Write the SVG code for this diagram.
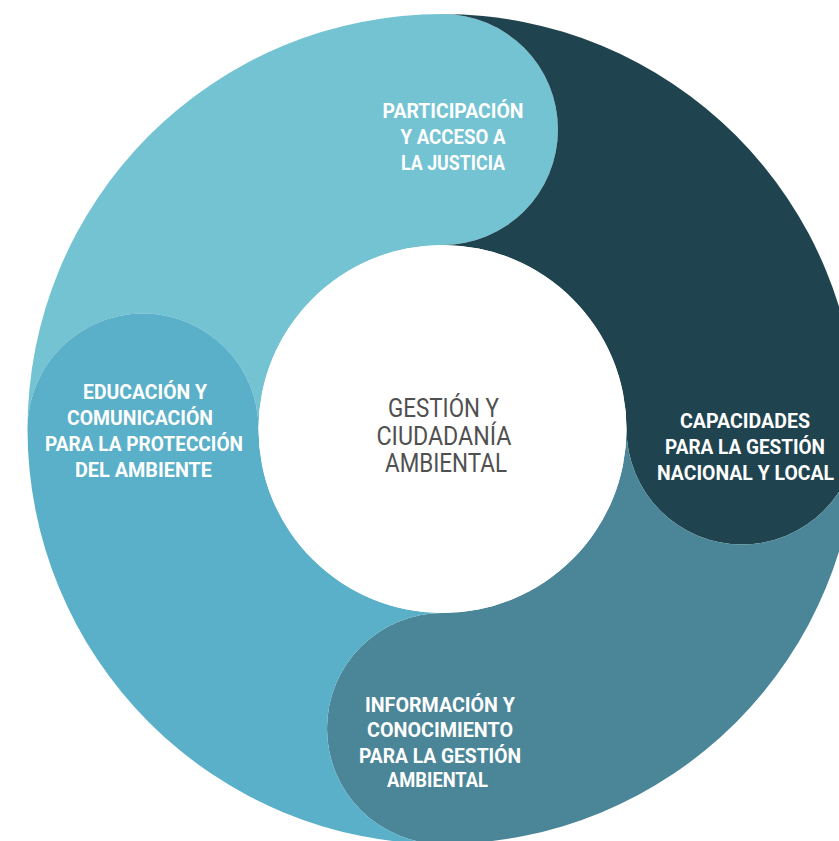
<svg xmlns="http://www.w3.org/2000/svg" width="839" height="841" viewBox="0 0 839 841">
<style>
.lbl{font-family:Roboto,"Liberation Sans",sans-serif;font-weight:700;font-size:21px;fill:#ffffff;text-anchor:middle}
.ctr{font-family:Roboto,"Liberation Sans",sans-serif;font-weight:400;font-size:26px;fill:#505050;text-anchor:middle}
</style>
<rect width="839" height="841" fill="#ffffff"/>
<g id="participacion">
<path fill="#73C3D3" d="M27.5 429 A415 415 0 0 1 442.5 14 A115.5 115.5 0 0 1 442.5 245 A184 184 0 0 0 258.5 429 A115.5 115.5 0 0 0 27.5 429 Z"/>
<text class="lbl" x="453" y="118" textLength="141" lengthAdjust="spacingAndGlyphs">PARTICIPACIÓN</text>
<text class="lbl" x="453" y="144" textLength="105" lengthAdjust="spacingAndGlyphs">Y ACCESO A</text>
<text class="lbl" x="453" y="170" textLength="104" lengthAdjust="spacingAndGlyphs">LA JUSTICIA</text>
</g>
<g id="capacidades">
<path fill="#20444F" d="M442.5 14 A415 415 0 0 1 857.5 429 A115.5 115.5 0 0 1 626.5 429 A184 184 0 0 0 442.5 245 A115.5 115.5 0 0 0 442.5 14 Z"/>
<text class="lbl" x="745" y="428" textLength="130" lengthAdjust="spacingAndGlyphs">CAPACIDADES</text>
<text class="lbl" x="745" y="454" textLength="160" lengthAdjust="spacingAndGlyphs">PARA LA GESTIÓN</text>
<text class="lbl" x="745.5" y="480" textLength="177" lengthAdjust="spacingAndGlyphs">NACIONAL Y LOCAL</text>
</g>
<g id="informacion">
<path fill="#4B8698" d="M857.5 429 A415 415 0 0 1 442.5 844 A115.5 115.5 0 0 1 442.5 613 A184 184 0 0 0 626.5 429 A115.5 115.5 0 0 0 857.5 429 Z"/>
<text class="lbl" x="440" y="712" textLength="150" lengthAdjust="spacingAndGlyphs">INFORMACIÓN Y</text>
<text class="lbl" x="440" y="737" textLength="146" lengthAdjust="spacingAndGlyphs">CONOCIMIENTO</text>
<text class="lbl" x="440" y="763" textLength="162" lengthAdjust="spacingAndGlyphs">PARA LA GESTIÓN</text>
<text class="lbl" x="437.5" y="787" textLength="101" lengthAdjust="spacingAndGlyphs">AMBIENTAL</text>
</g>
<g id="educacion">
<path fill="#5AB0C8" d="M442.5 844 A415 415 0 0 1 27.5 429 A115.5 115.5 0 0 1 258.5 429 A184 184 0 0 0 442.5 613 A115.5 115.5 0 0 0 442.5 844 Z"/>
<text class="lbl" x="145" y="399" textLength="124" lengthAdjust="spacingAndGlyphs">EDUCACIÓN Y</text>
<text class="lbl" x="140" y="425" textLength="146" lengthAdjust="spacingAndGlyphs">COMUNICACIÓN</text>
<text class="lbl" x="144" y="451" textLength="198" lengthAdjust="spacingAndGlyphs">PARA LA PROTECCIÓN</text>
<text class="lbl" x="143.5" y="477" textLength="137" lengthAdjust="spacingAndGlyphs">DEL AMBIENTE</text>
</g>
<g id="centro">
<circle cx="442.5" cy="429" r="184" fill="#ffffff"/>
<text class="ctr" x="443.5" y="417" textLength="111" lengthAdjust="spacingAndGlyphs">GESTIÓN Y</text>
<text class="ctr" x="444" y="445" textLength="135" lengthAdjust="spacingAndGlyphs">CIUDADANÍA</text>
<text class="ctr" x="446" y="472" textLength="122" lengthAdjust="spacingAndGlyphs">AMBIENTAL</text>
</g>
<g id="connectors"></g>
</svg>
